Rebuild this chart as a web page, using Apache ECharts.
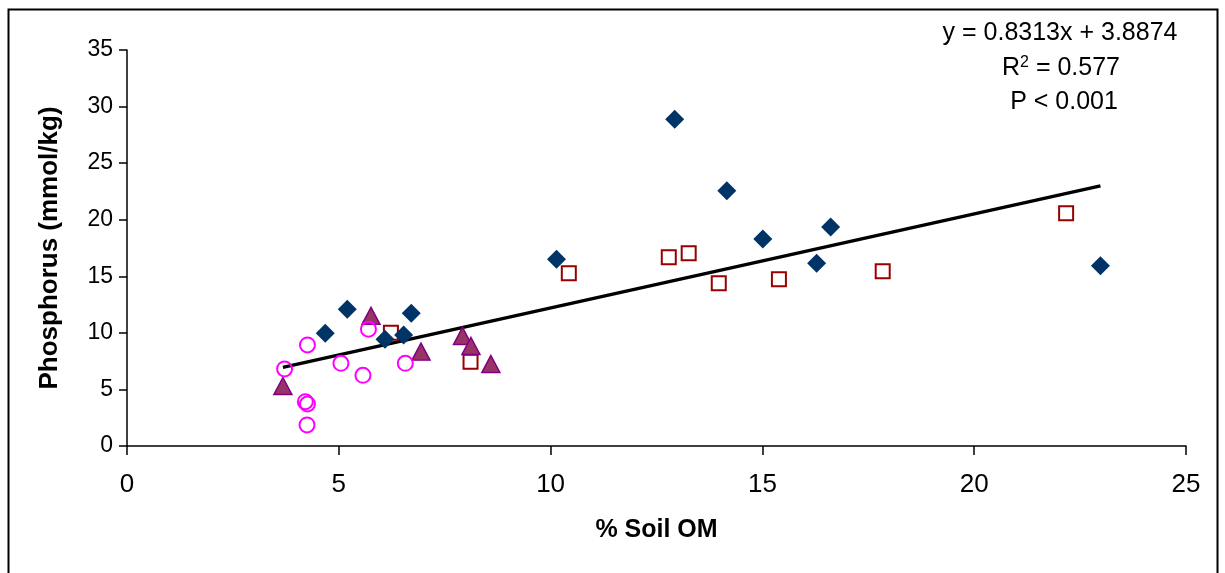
<!DOCTYPE html>
<html>
<head>
<meta charset="utf-8">
<script src="https://cdn.jsdelivr.net/npm/echarts@6/dist/echarts.min.js"></script>
<style>
html,body{margin:0;padding:0;background:#fff;}
#chart{width:1225px;height:573px;}
</style>
</head>
<body>
<div id="chart"></div>
<script>
// Data
var diamondX = [4.68, 5.20, 6.09, 6.53, 6.71, 10.14, 12.93, 14.16, 15.01, 16.28, 16.61, 22.98];
var diamondY = [9.96, 12.09, 9.43, 9.81, 11.73, 16.5, 28.88, 22.55, 18.3, 16.15, 19.36, 15.94];

var squareX = [6.23, 8.11, 10.43, 12.79, 13.26, 13.97, 15.39, 17.84, 22.17];
var squareY = [10.0, 7.45, 15.27, 16.68, 17.04, 14.38, 14.74, 15.44, 20.57];

var triangleX = [3.68, 5.76, 6.94, 7.92, 8.12, 8.59];
var triangleY = [5.3, 11.5, 8.34, 9.73, 8.84, 7.25];

var circleX = [3.72, 4.26, 5.70, 5.05, 5.57, 6.57, 4.21, 4.26, 4.25];
var circleY = [6.81, 8.93, 10.32, 7.31, 6.25, 7.31, 3.92, 3.71, 1.86];

// Regression line as printed on the chart
var trendSlope = 0.8313;
var trendIntercept = 3.8874;
var trendX = [3.68, 22.98];

var xTicks = [0, 5, 10, 15, 20, 25];
var yTicks = [0, 5, 10, 15, 20, 25, 30, 35];

var eqLines = ['y = 0.8313x + 3.8874', 'R{sup|2} = 0.577', 'P < 0.001'];

function pairs(xs, ys) { return xs.map(function (x, i) { return [x, ys[i]]; }); }
var trendData = trendX.map(function (x) { return [x, trendSlope * x + trendIntercept]; });

var FONT = '"Liberation Sans", Arial, sans-serif';
var NARROW = '"Liberation Sans Narrow", "Arial Narrow", "Liberation Sans", sans-serif';
var chart = echarts.init(document.getElementById('chart'), null, {renderer: 'canvas'});

chart.setOption({
  animation: false,
  backgroundColor: '#fff',
  grid: {left: 127, right: 39, top: 50, bottom: 127, containLabel: false},
  xAxis: {
    type: 'value', min: xTicks[0], max: xTicks[xTicks.length - 1], interval: 5,
    name: '% Soil OM', nameLocation: 'middle', nameGap: 72,
    nameTextStyle: {fontFamily: FONT, fontSize: 25, fontWeight: 'bold', color: '#000'},
    axisLine: {show: true, lineStyle: {color: '#000', width: 1.5}},
    axisTick: {show: true, inside: false, length: 9, lineStyle: {color: '#000', width: 1.5}},
    axisLabel: {fontFamily: NARROW, fontSize: 26, color: '#000', margin: 26},
    splitLine: {show: false}
  },
  yAxis: {
    type: 'value', min: yTicks[0], max: yTicks[yTicks.length - 1], interval: 5,
    name: 'Phosphorus (mmol/kg)', nameLocation: 'middle', nameGap: 64,
    nameTextStyle: {fontFamily: FONT, fontSize: 26, fontWeight: 'bold', color: '#000'},
    axisLine: {show: true, lineStyle: {color: '#000', width: 1.5}},
    axisTick: {show: true, inside: false, length: 8, lineStyle: {color: '#000', width: 1.5}},
    axisLabel: {fontFamily: FONT, fontSize: 23, color: '#000', margin: 14},
    splitLine: {show: false}
  },
  series: [
    {
      name: 'Trend', type: 'line', data: trendData, symbol: 'none', z: 1,
      lineStyle: {color: '#000', width: 3.5}
    },
    {
      name: 'Squares', type: 'scatter', data: pairs(squareX, squareY), symbol: 'rect', symbolSize: 14, z: 2,
      itemStyle: {color: 'rgba(255,255,255,0)', borderColor: '#990000', borderWidth: 2, opacity: 1}
    },
    {
      name: 'Triangles', type: 'scatter', data: pairs(triangleX, triangleY), symbol: 'triangle', symbolSize: [18, 17], z: 3,
      itemStyle: {color: '#993366', borderColor: '#800080', borderWidth: 1.5, opacity: 1}
    },
    {
      name: 'Circles', type: 'scatter', data: pairs(circleX, circleY), symbol: 'circle', symbolSize: 15, z: 4,
      itemStyle: {color: 'rgba(255,255,255,0)', borderColor: '#FF00FF', borderWidth: 2, opacity: 1}
    },
    {
      name: 'Diamonds', type: 'scatter', data: pairs(diamondX, diamondY), symbol: 'diamond', symbolSize: 19, z: 5,
      itemStyle: {color: '#003366', opacity: 1}
    }
  ],
  graphic: [
    {
      type: 'rect', left: 6, top: 7, silent: true,
      shape: {x: 0, y: 0, width: 1209, height: 620},
      style: {fill: 'none', stroke: '#000', lineWidth: 2}
    },
    {
      type: 'text', x: 1060, y: 33,
      style: {text: eqLines[0], font: '25px ' + FONT, fill: '#000', textAlign: 'center', textVerticalAlign: 'middle'}
    },
    {
      type: 'text', x: 1061, y: 68,
      style: {
        text: eqLines[1], font: '25px ' + FONT, fill: '#000', textAlign: 'center', textVerticalAlign: 'middle',
        rich: {sup: {fontSize: 16, fontFamily: FONT, verticalAlign: 'top', padding: [0, 0, 10, 0]}}
      }
    },
    {
      type: 'text', x: 1064, y: 102,
      style: {text: eqLines[2], font: '25px ' + FONT, fill: '#000', textAlign: 'center', textVerticalAlign: 'middle'}
    }
  ]
});
</script>
</body>
</html>
